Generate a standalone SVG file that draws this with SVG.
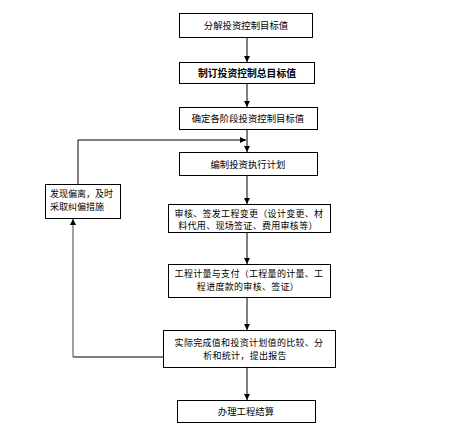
<svg xmlns="http://www.w3.org/2000/svg" width="451" height="444" viewBox="0 0 451 444">
<defs>
<style>
.box{fill:#fff;stroke:#000;stroke-width:1}
.t{font-family:"Noto Sans CJK SC","Liberation Sans",sans-serif;font-size:9.4px;fill:#000;text-anchor:middle}
.m{font-size:9px;letter-spacing:0.3px}
.tl{font-family:"Noto Sans CJK SC","Liberation Sans",sans-serif;font-size:9px;fill:#000}
.b{font-weight:bold;font-size:9.8px}
.ln{fill:none;stroke:#000;stroke-width:1}
.gl{fill:none;stroke:#808080;stroke-width:1.5}
</style>
<marker id="ah" viewBox="0 0 8 8" refX="8" refY="4" markerWidth="6" markerHeight="6" markerUnits="userSpaceOnUse" orient="auto">
<path d="M0,0 L8,4 L0,8 Z" fill="#000"/>
</marker>
</defs>
<rect width="451" height="444" fill="#fff"/>
<g id="connectors">
<path class="ln" d="M247,38 V62" marker-end="url(#ah)"/>
<path class="ln" d="M247,83 V107" marker-end="url(#ah)"/>
<path class="ln" d="M247,129 V152" marker-end="url(#ah)"/>
<path class="ln" d="M247,175 V204" marker-end="url(#ah)"/>
<path class="ln" d="M247,232 V264" marker-end="url(#ah)"/>
<path class="ln" d="M247,297 V330" marker-end="url(#ah)"/>
<path class="ln" d="M247,367 V400" marker-end="url(#ah)"/>
<path class="ln" d="M163,357 H73"/>
<path class="gl" d="M73,357 V219" marker-end="url(#ah)"/>
<path class="ln" d="M78,184 V140 H246" marker-end="url(#ah)"/>
</g>
<g id="n1"><rect class="box" x="179.5" y="13.5" width="133" height="24"/><text class="t" x="246" y="29">分解投资控制目标值</text></g>
<g id="n2"><rect class="box" x="179.5" y="62.5" width="135" height="21"/><text class="t b" x="247" y="76.5">制订投资控制总目标值</text></g>
<g id="n3"><rect class="box" x="179.5" y="107.5" width="138" height="22"/><text class="t" x="248" y="122">确定各阶段投资控制目标值</text></g>
<g id="n4"><rect class="box" x="179.5" y="152.5" width="138" height="23"/><text class="t" x="248" y="167.5">编制投资执行计划</text></g>
<g id="n5"><rect class="box" x="168.5" y="204.5" width="162" height="28"/><text class="t m" x="249" y="216.5">审核、签发工程变更（设计变更、材</text><text class="t m" x="248" y="229">料代用、现场签证、费用审核等）</text></g>
<g id="n6"><rect class="box" x="168.5" y="264.5" width="162" height="33"/><text class="t m" x="249" y="277">工程计量与支付（工程量的计量、工</text><text class="t m" x="248" y="290">程进度款的审核、签证）</text></g>
<g id="n7"><rect class="box" x="163.5" y="330.5" width="172" height="37"/><text class="t m" x="249" y="345.5">实际完成值和投资计划值的比较、分</text><text class="t m" x="245" y="358.5">析和统计，提出报告</text></g>
<g id="n8"><rect class="box" x="177.5" y="400.5" width="138" height="22"/><text class="t" x="246" y="415">办理工程结算</text></g>
<g id="n9"><rect class="box" x="45.5" y="184.5" width="75" height="34"/><text class="tl" x="50" y="197">发现偏离，及时</text><text class="tl" x="50" y="210">采取纠偏措施</text></g>
</svg>
